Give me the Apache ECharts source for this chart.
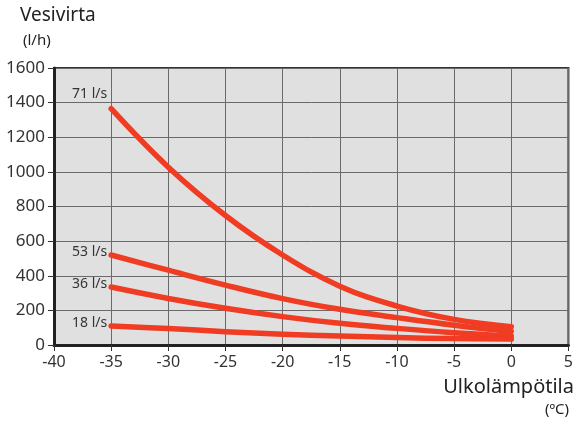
<!DOCTYPE html>
<html>
<head>
<meta charset="utf-8">
<script src="https://cdn.jsdelivr.net/npm/echarts@6/dist/echarts.min.js"></script>
<style>html,body{margin:0;padding:0;background:#fff}#c{width:576px;height:425px}</style>
</head>
<body>
<div id="c"></div>
<script>
const temps = [-35, -30, -25, -20, -15, -10, -5, 0];
const flow71 = [1365, 1027, 748, 520, 340, 225, 148, 106];
const flow53 = [520, 432, 346, 268, 206, 158, 114, 78];
const flow36 = [335, 269, 212, 164, 125, 96, 71, 52];
const flow18 = [110, 95, 77, 62, 52, 43, 37, 34];
const seriesNames = ['71 l/s', '53 l/s', '36 l/s', '18 l/s'];
const xTicks = [-40, -35, -30, -25, -20, -15, -10, -5, 0, 5];
const yTicks = [0, 200, 400, 600, 800, 1000, 1200, 1400, 1600];

const FONT = 'Noto Sans';
const RED = '#ef3c23';
const labelOffsets = [[0, -15], [0, -3], [0, -3], [0, -3]];

function build(vals, idx) {
  return vals.map((v, i) => {
    const item = { value: [temps[i], v] };
    if (i === 0) {
      item.label = {
        show: true, position: 'left', distance: 4, offset: labelOffsets[idx],
        formatter: seriesNames[idx], color: '#333', fontSize: 14, fontFamily: FONT
      };
    }
    return item;
  });
}

const chart = echarts.init(document.getElementById('c'), null, { renderer: 'canvas' });
const allSeries = [flow71, flow53, flow36, flow18].map((vals, idx) => ({
  type: 'line',
  name: seriesNames[idx],
  data: build(vals, idx),
  smooth: 0.4,
  showSymbol: true,
  symbol: 'circle',
  symbolSize: 0,
  lineStyle: { color: RED, width: 5.5, cap: 'round', join: 'round' },
  itemStyle: { color: RED },
  silent: true,
  z: 5
}));

chart.setOption({
  animation: false,
  backgroundColor: '#fff',
  grid: {
    left: 54, top: 68, right: 5, bottom: 80,
    show: true, backgroundColor: '#e0e0e0', borderColor: '#333', borderWidth: 2
  },
  graphic: [
    { type: 'text', left: 20, top: 6, style: { text: 'Vesivirta', font: '19px ' + FONT, fill: '#222' } },
    { type: 'text', left: 23, top: 33, style: { text: '(l/h)', font: '15px ' + FONT, fill: '#222' } },
    { type: 'text', right: 2, top: 377, style: { text: 'Ulkolämpötila', font: '20px ' + FONT, fill: '#222' } },
    { type: 'text', right: 7, top: 402, style: { text: '(ºC)', font: '15px ' + FONT, fill: '#222' } }
  ],
  xAxis: {
    type: 'value', min: xTicks[0], max: xTicks[xTicks.length - 1], interval: 5,
    axisLine: { show: true, onZero: false, lineStyle: { color: '#222', width: 3 } },
    axisTick: { show: true, length: 6, lineStyle: { color: '#333', width: 1 } },
    axisLabel: { color: '#333', fontSize: 16, fontFamily: FONT, margin: 9 },
    splitLine: { show: true, lineStyle: { color: '#6a6a6a', width: 1 } }
  },
  yAxis: {
    type: 'value', min: yTicks[0], max: yTicks[yTicks.length - 1], interval: 200,
    axisLine: { show: true, onZero: false, lineStyle: { color: '#222', width: 3 } },
    axisTick: { show: true, length: 6, lineStyle: { color: '#333', width: 1 } },
    axisLabel: { color: '#333', fontSize: 17, fontFamily: FONT, margin: 9, formatter: v => String(v) },
    splitLine: { show: true, lineStyle: { color: '#6a6a6a', width: 1 } }
  },
  series: allSeries
});
</script>
</body>
</html>
